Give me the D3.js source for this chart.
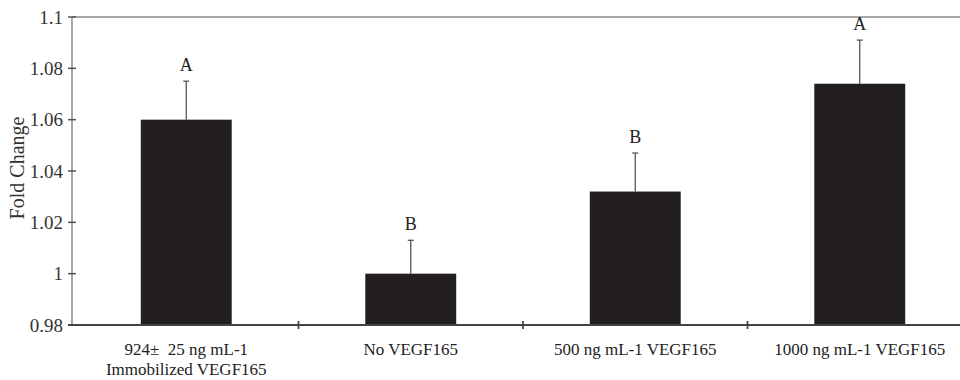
<!DOCTYPE html>
<html>
<head>
<meta charset="utf-8">
<script src="https://cdn.jsdelivr.net/npm/d3@7"></script>
<style>
  body { margin: 0; background: #fff; }
  svg { display: block; font-family: "Liberation Serif", "Times New Roman", serif; }
</style>
</head>
<body>
<div id="grafica"></div>
<script>
// datos
const categorias = ["inmovilizado", "sin", "500", "1000"];
const etiquetas = [
    ["924\u00b1  25 ng mL-1", "Immobilized VEGF165"],
    ["No VEGF165"],
    ["500 ng mL-1 VEGF165"],
    ["1000 ng mL-1 VEGF165"]
];
const valores = [1.060, 1.000, 1.032, 1.074];
const errores = [0.015, 0.013, 0.015, 0.017];
const letras = ["A", "B", "B", "A"];
const ticksY = [0.98, 1, 1.02, 1.04, 1.06, 1.08, 1.1];

const ancho = 960, alto = 380;
const margen = { top: 17, left: 72, bottom: 55 };

const svg = d3.select("#grafica").append("svg")
    .attr("width", ancho)
    .attr("height", alto);

const y = d3.scaleLinear()
    .domain([0.98, 1.1])
    .range([alto - margen.bottom, margen.top]);

const x = d3.scaleBand()
    .domain(categorias)
    .range([margen.left + 2, margen.left + 2 + 4 * 224.5])
    .paddingInner(0)
    .paddingOuter(0);

const anchoBarra = x.bandwidth() * 0.405;
const base = y(0.98);

// linea superior (1.1)
svg.append("line")
    .attr("x1", margen.left).attr("x2", ancho)
    .attr("y1", y(1.1)).attr("y2", y(1.1))
    .attr("stroke", "#8a8a8a").attr("stroke-width", 1.5);

// barras
svg.selectAll("rect.barra")
    .data(valores)
    .enter()
    .append("rect")
    .attr("class", "barra")
    .attr("x", (d, i) => x(categorias[i]) + x.bandwidth() / 2 - anchoBarra / 2)
    .attr("y", d => y(d))
    .attr("width", anchoBarra)
    .attr("height", d => base - y(d))
    .attr("fill", "#231f20");

// barras de error (solo hacia arriba)
const errorG = svg.selectAll("g.error")
    .data(valores)
    .enter()
    .append("g")
    .attr("class", "error")
    .attr("transform", (d, i) => `translate(${x(categorias[i]) + x.bandwidth() / 2},0)`);

errorG.append("line")
    .attr("y1", d => y(d))
    .attr("y2", (d, i) => y(d + errores[i]))
    .attr("stroke", "#555").attr("stroke-width", 1.3);

errorG.append("line")
    .attr("x1", -3).attr("x2", 3)
    .attr("y1", (d, i) => y(d + errores[i]))
    .attr("y2", (d, i) => y(d + errores[i]))
    .attr("stroke", "#555").attr("stroke-width", 1.3);

errorG.append("text")
    .attr("y", (d, i) => y(d + errores[i]) - 10)
    .attr("text-anchor", "middle")
    .style("font-size", "18px")
    .style("fill", "#222")
    .text((d, i) => letras[i]);

// eje Y
const ejeY = svg.append("g");
ejeY.append("line")
    .attr("x1", margen.left).attr("x2", margen.left)
    .attr("y1", y(1.1)).attr("y2", base)
    .attr("stroke", "#8a8a8a").attr("stroke-width", 1.5);

ejeY.selectAll("line.tick")
    .data(ticksY)
    .enter()
    .append("line")
    .attr("class", "tick")
    .attr("x1", margen.left - 4).attr("x2", margen.left + 4)
    .attr("y1", d => y(d)).attr("y2", d => y(d))
    .attr("stroke", "#555").attr("stroke-width", 1.5);

ejeY.selectAll("text")
    .data(ticksY)
    .enter()
    .append("text")
    .attr("x", margen.left - 9)
    .attr("y", d => y(d))
    .attr("dy", "0.35em")
    .attr("text-anchor", "end")
    .style("font-size", "19px")
    .style("fill", "#333")
    .text(d => String(+d.toFixed(2)));

svg.append("text")
    .attr("transform", `translate(24,${(y(1.1) + base) / 2 - 3}) rotate(-90)`)
    .attr("text-anchor", "middle")
    .style("font-size", "20px")
    .style("fill", "#333")
    .text("Fold Change");

// eje X
svg.append("line")
    .attr("x1", margen.left - 4).attr("x2", ancho)
    .attr("y1", base).attr("y2", base)
    .attr("stroke", "#444").attr("stroke-width", 1.8);

svg.selectAll("line.sep")
    .data(categorias.slice(1))
    .enter()
    .append("line")
    .attr("class", "sep")
    .attr("x1", d => x(d)).attr("x2", d => x(d))
    .attr("y1", base - 4).attr("y2", base + 4)
    .attr("stroke", "#444").attr("stroke-width", 1.8);

const etiquetaX = svg.selectAll("text.cat")
    .data(etiquetas)
    .enter()
    .append("text")
    .attr("class", "cat")
    .attr("text-anchor", "middle")
    .attr("x", (d, i) => x(categorias[i]) + x.bandwidth() / 2)
    .attr("y", base + 30)
    .style("font-size", "17px")
    .style("fill", "#222");

etiquetaX.selectAll("tspan")
    .data(d => d)
    .enter()
    .append("tspan")
    .attr("x", function () { return this.parentNode.getAttribute("x"); })
    .attr("dy", (d, i) => i === 0 ? 0 : "1.2em")
    .style("white-space", "pre")
    .text(d => d);
</script>
</body>
</html>
